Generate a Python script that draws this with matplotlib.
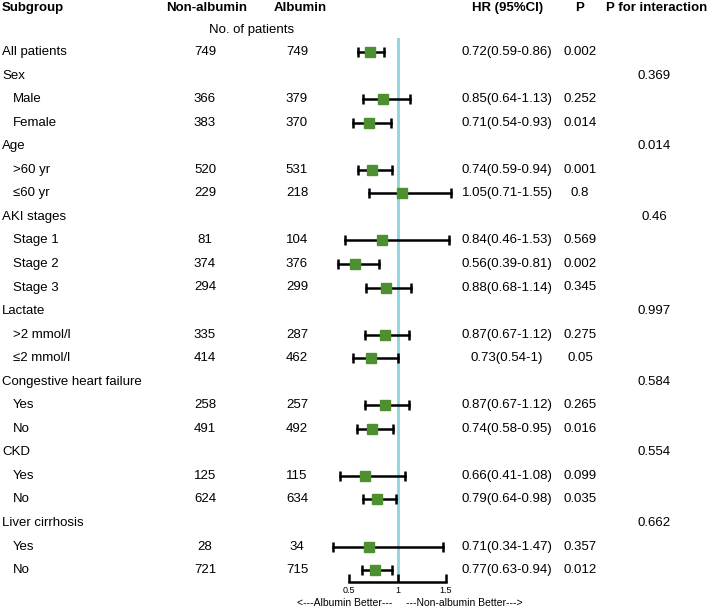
import matplotlib.pyplot as plt
import matplotlib.transforms as mtransforms

plt.rcParams['font.family'] = ['Liberation Sans', 'DejaVu Sans']

labels = ['All patients', 'Sex', 'Male', 'Female', 'Age', '>60 yr', '\u226460 yr',
          'AKI stages', 'Stage 1', 'Stage 2', 'Stage 3', 'Lactate', '>2 mmol/l',
          '\u22642 mmol/l', 'Congestive heart failure', 'Yes', 'No', 'CKD', 'Yes', 'No',
          'Liver cirrhosis', 'Yes', 'No']
is_sub = [False, False, True, True, False, True, True, False, True, True, True, False,
          True, True, False, True, True, False, True, True, False, True, True]
non_albumin = ['749', '', '366', '383', '', '520', '229', '', '81', '374', '294', '',
               '335', '414', '', '258', '491', '', '125', '624', '', '28', '721']
albumin = ['749', '', '379', '370', '', '531', '218', '', '104', '376', '299', '',
           '287', '462', '', '257', '492', '', '115', '634', '', '34', '715']
hr = [0.72, None, 0.85, 0.71, None, 0.74, 1.05, None, 0.84, 0.56, 0.88, None,
      0.87, 0.73, None, 0.87, 0.74, None, 0.66, 0.79, None, 0.71, 0.77]
lo = [0.59, None, 0.64, 0.54, None, 0.59, 0.71, None, 0.46, 0.39, 0.68, None,
      0.67, 0.54, None, 0.67, 0.58, None, 0.41, 0.64, None, 0.34, 0.63]
hi = [0.86, None, 1.13, 0.93, None, 0.94, 1.55, None, 1.53, 0.81, 1.14, None,
      1.12, 1.0, None, 1.12, 0.95, None, 1.08, 0.98, None, 1.47, 0.94]
hr_text = ['0.72(0.59-0.86)', '', '0.85(0.64-1.13)', '0.71(0.54-0.93)', '',
           '0.74(0.59-0.94)', '1.05(0.71-1.55)', '', '0.84(0.46-1.53)', '0.56(0.39-0.81)',
           '0.88(0.68-1.14)', '', '0.87(0.67-1.12)', '0.73(0.54-1)', '',
           '0.87(0.67-1.12)', '0.74(0.58-0.95)', '', '0.66(0.41-1.08)', '0.79(0.64-0.98)',
           '', '0.71(0.34-1.47)', '0.77(0.63-0.94)']
p_val = ['0.002', '', '0.252', '0.014', '', '0.001', '0.8', '', '0.569', '0.002',
         '0.345', '', '0.275', '0.05', '', '0.265', '0.016', '', '0.099', '0.035',
         '', '0.357', '0.012']
p_int = ['', '0.369', '', '', '0.014', '', '', '0.46', '', '', '', '0.997', '', '',
         '0.584', '', '', '0.554', '', '', '0.662', '', '']

W, H = 709, 611
fig = plt.figure(figsize=(W / 100, H / 100), dpi=100)

# forest panel: x 0.5..1.5 spans pixels 349..446, bottom spine at 582
ax = fig.add_axes([349 / W, 1 - 582 / H, 97 / W, (582 - 38) / H])
row_px = 23.55
ax.set_xlim(0.5, 1.5)
ax.set_ylim((582 - 52) / row_px, (38 - 52) / row_px)

ax.axvline(1, color='#8fd3de', lw=2, zorder=1)
for i in range(len(labels)):
    if hr[i] is None:
        continue
    ax.plot([lo[i], hi[i]], [i, i], color='black', lw=1.8, zorder=2, clip_on=False)
    ax.plot([lo[i], hi[i]], [i, i], ls='none', marker='|', ms=7, mew=1.8,
            color='black', zorder=2, clip_on=False)
    ax.plot(hr[i], i, 's', color='#4e8f2f', ms=7.5, zorder=3, clip_on=False)

for s in ['top', 'left', 'right']:
    ax.spines[s].set_visible(False)
ax.spines['bottom'].set_linewidth(1.8)
ax.set_yticks([])
ax.set_xticks([0.5, 1, 1.5])
ax.set_xticklabels(['0.5', '1', '1.5'])
ax.tick_params(axis='x', direction='in', length=6, width=1.8, labelsize=6.5, pad=3)

trans = mtransforms.blended_transform_factory(fig.transFigure, ax.transData)
fs = 9.5

def fx(px):
    return px / W

for i, lab in enumerate(labels):
    ax.text(fx(13 if is_sub[i] else 2), i, lab, transform=trans, ha='left',
            va='center', fontsize=fs, clip_on=False)
    ax.text(fx(205), i, non_albumin[i], transform=trans, ha='center', va='center', fontsize=fs)
    ax.text(fx(297), i, albumin[i], transform=trans, ha='center', va='center', fontsize=fs)
    ax.text(fx(507), i, hr_text[i], transform=trans, ha='center', va='center', fontsize=fs)
    ax.text(fx(580), i, p_val[i], transform=trans, ha='center', va='center', fontsize=fs)
    ax.text(fx(654), i, p_int[i], transform=trans, ha='center', va='center', fontsize=fs)

# headers
hy = 1 - 8 / H
fig.text(fx(2), hy, 'Subgroup', ha='left', va='center', fontsize=fs, fontweight='bold')
fig.text(fx(207), hy, 'Non-albumin', ha='center', va='center', fontsize=fs, fontweight='bold')
fig.text(fx(300), hy, 'Albumin', ha='center', va='center', fontsize=fs, fontweight='bold')
fig.text(fx(508), hy, 'HR (95%CI)', ha='center', va='center', fontsize=fs, fontweight='bold')
fig.text(fx(580), hy, 'P', ha='center', va='center', fontsize=fs, fontweight='bold')
fig.text(fx(657), hy, 'P for interaction', ha='center', va='center', fontsize=fs, fontweight='bold')
fig.text(fx(252), 1 - 30 / H, 'No. of patients', ha='center', va='center', fontsize=fs)

by = 1 - 603 / H
fig.text(fx(392), by, '<---Albumin Better---', ha='right', va='center', fontsize=7.5)
fig.text(fx(406), by, '---Non-albumin Better--->', ha='left', va='center', fontsize=7.5)

plt.savefig('out.png', dpi=100)
